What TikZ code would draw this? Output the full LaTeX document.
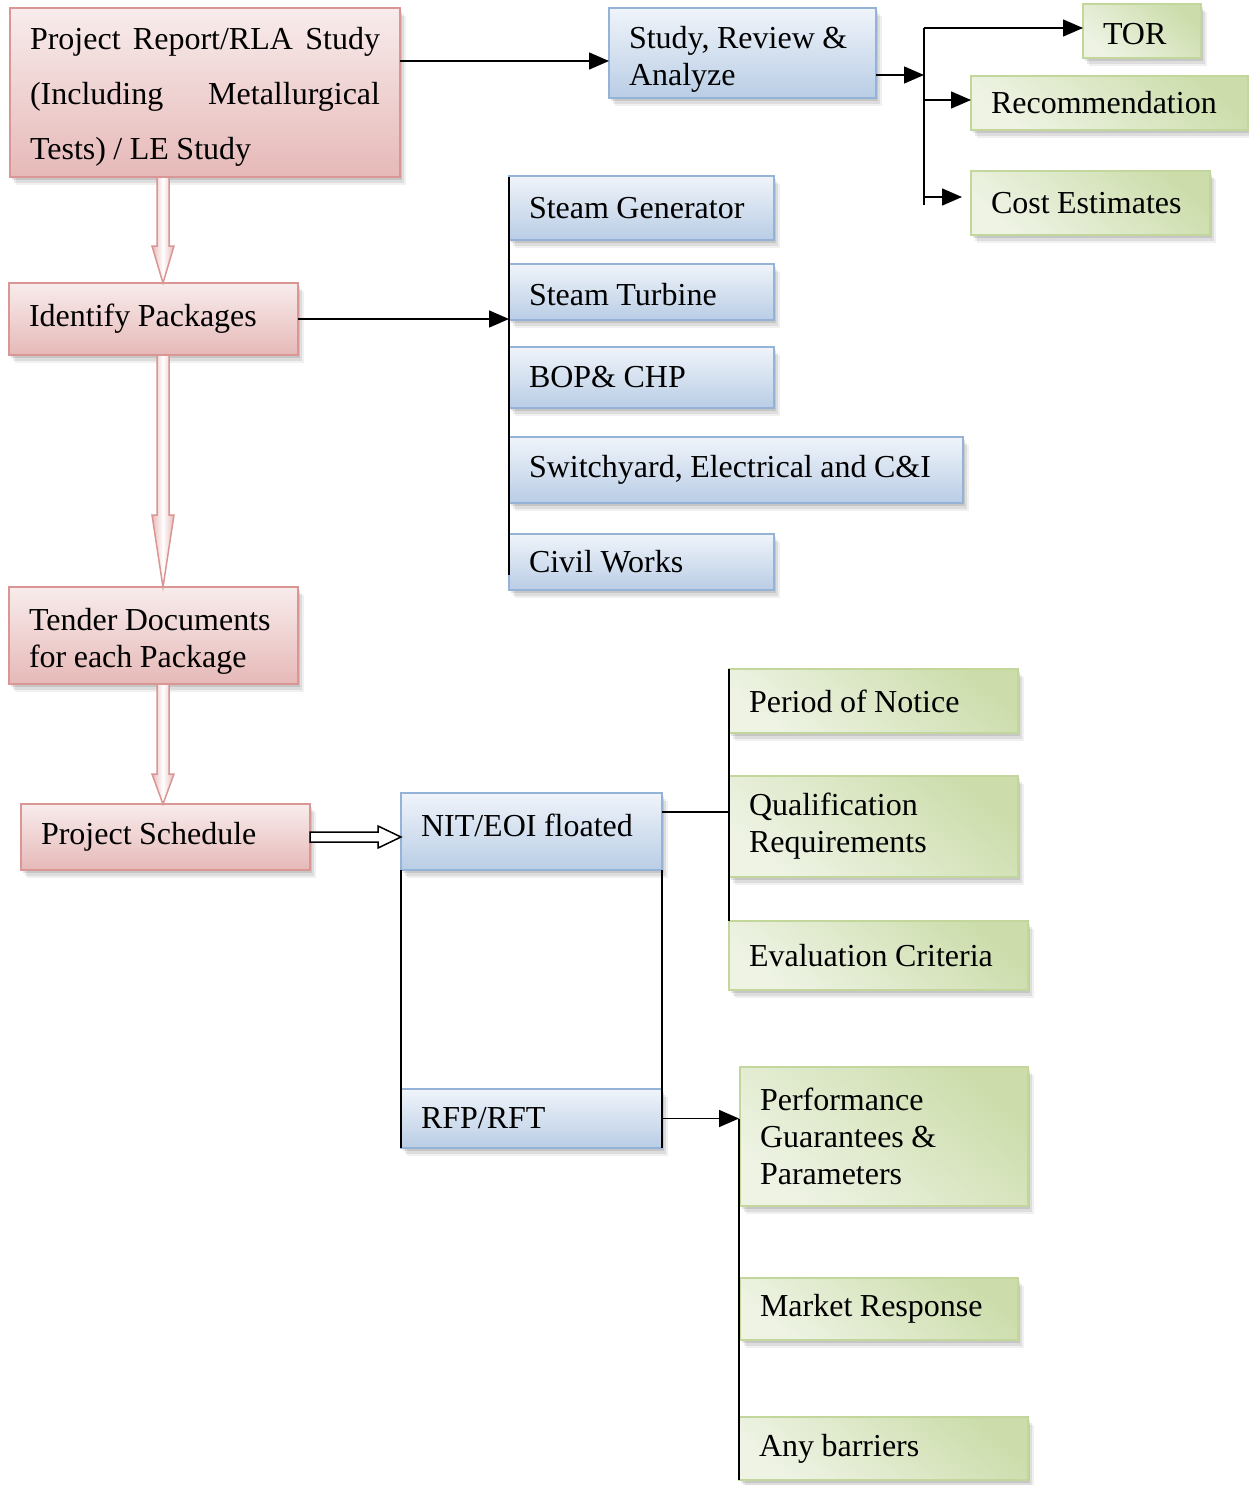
\documentclass[tikz,border=0pt]{standalone}
\usepackage{fontspec}
\setmainfont{Liberation Serif}
\usetikzlibrary{arrows.meta,shadows,calc}
\definecolor{pkD}{HTML}{D99694}
\definecolor{pkT}{HTML}{F8ECEC}
\definecolor{pkB}{HTML}{E6B9B8}
\definecolor{blD}{HTML}{95B3D7}
\definecolor{blT}{HTML}{F0F4FA}
\definecolor{blB}{HTML}{B9CDE5}
\definecolor{grD}{HTML}{C3D69B}
\definecolor{grA}{HTML}{CCDDAB}
\definecolor{grB}{HTML}{EEF3E4}
\newcommand\tightsp{\spaceskip=7.5pt plus 2pt minus 1pt\relax}
\tikzset{
  softshadow/.style={drop shadow={shadow xshift=2pt,shadow yshift=-3pt,opacity=.10,fill=black},
                     drop shadow={shadow xshift=4pt,shadow yshift=-6pt,opacity=.08,fill=black},
                     drop shadow={shadow xshift=6pt,shadow yshift=-8pt,opacity=.06,fill=black}},
  box/.style={anchor=north west, inner xsep=20pt, inner ysep=3pt, outer sep=0pt,
              line width=2pt, align=left, font=\fontsize{32}{37}\selectfont,
              execute at begin node=\tightsp, softshadow},
  pinkbox/.style={box, draw=pkD, top color=pkT, bottom color=pkB},
  bluebox/.style={box, draw=blD, top color=blT, bottom color=blB},
  greenbox/.style={box, draw=grD, top color=grA, bottom color=grB, shading angle=-40},
  conn/.style={line width=1.5pt, black},
  arr/.style={conn, -{Triangle[length=20pt,width=17pt]}},
  fatarr/.style={draw=pkD, line width=1.5pt, left color=pkB, right color=pkB, middle color=white},
  openarr/.style={draw=black, line width=1.5pt, fill=white},
}
\newcommand\fatarrow[3]{%
  \path[fatarr] let \p1=(#1), \p2=(#2) in
    (\x1-6pt,\y1) -- (\x1-6pt,\y2+#3) -- (\x1-11pt,\y2+#3) -- (\x2,\y2)
    -- (\x1+11pt,\y2+#3) -- (\x1+6pt,\y2+#3) -- (\x1+6pt,\y1) -- cycle;}
\newcommand\openarrow[2]{%
  \path[openarr] let \p1=(#1), \p2=(#2) in
    (\x1,\y1+5pt) -- (\x2-23pt,\y1+5pt) -- (\x2-23pt,\y1+11pt) -- (\x2,\y1)
    -- (\x2-23pt,\y1-11pt) -- (\x2-23pt,\y1-5pt) -- (\x1,\y1-5pt) -- cycle;}
\begin{document}
\begin{tikzpicture}[x=1pt,y=-1pt]
\useasboundingbox[fill=white] (0,0) rectangle (1249,1485);

% left column
\node[pinkbox, minimum height=169pt, text width=350pt, font=\fontsize{32}{55}\selectfont] (p1) at (10,8)
  {\rule{0pt}{31pt}Project\hfill Report/RLA\hfill Study\\(Including\hfill Metallurgical\\Tests) / LE Study};
\node[pinkbox, minimum height=72pt, text width=249pt] (ident) at (9,283) {Identify Packages};
\node[pinkbox, minimum height=97pt, text width=249pt] (tender) at (9,587) {\rule{0pt}{33pt}Tender Documents\\for each Package};
\node[pinkbox, minimum height=66pt, text width=249pt] (ps) at (21,804) {Project Schedule};

% top right
\node[bluebox, minimum height=90pt, text width=227pt] (study) at (609,8) {\rule{0pt}{35pt}Study, Review \&\\Analyze};
\node[greenbox, minimum height=54pt, text width=78pt] (tor) at (1083,4) {\rule{0pt}{27pt}TOR};
\node[greenbox, minimum height=54pt, text width=237pt] (rec) at (971,76) {Recommendation};
\node[greenbox, minimum height=64pt, text width=199pt] (cost) at (971,171) {Cost Estimates};

% packages
\node[bluebox, minimum height=64pt, text width=225pt] (sg) at (509,176) {Steam Generator};
\node[bluebox, minimum height=56pt, text width=225pt] (st) at (509,264) {\rule{0pt}{27pt}Steam Turbine};
\node[bluebox, minimum height=61pt, text width=225pt] (bop) at (509,347) {BOP\& CHP};
\node[bluebox, minimum height=66pt, text width=414pt] (sw) at (509,437) {Switchyard, Electrical and C\&I};
\node[bluebox, minimum height=56pt, text width=225pt] (cw) at (509,534) {Civil Works};

% NIT / RFP
\node[bluebox, minimum height=77pt, text width=221pt] (nit) at (401,793) {\raisebox{12pt}{NIT/EOI floated}};
\node[bluebox, minimum height=59pt, text width=221pt] (rfp) at (401,1089) {RFP/RFT};

\node[greenbox, minimum height=64pt, text width=249pt] (pon) at (729,669) {Period of Notice};
\node[greenbox, minimum height=101pt, text width=249pt] (qr) at (729,776) {Qualification\\Requirements};
\node[greenbox, minimum height=69pt, text width=259pt] (ev) at (729,921) {Evaluation Criteria};

\node[greenbox, minimum height=139pt, text width=248pt] (pg) at (740,1067) {Performance\\Guarantees \&\\Parameters};
\node[greenbox, minimum height=62pt, text width=238pt] (mr) at (740,1278) {Market Response};
\node[greenbox, minimum height=63pt, text width=249pt] (ab) at (739,1417) {Any barriers};

% helper coordinates
\coordinate (ax) at (163,0);
\coordinate (bx) at (924,0);
\coordinate (c1) at ([yshift=-53pt]p1.north east);
\coordinate (c2) at ([yshift=-67pt]study.north east);
\coordinate (c3) at ([yshift=-19pt]nit.north east);
\coordinate (b2top) at (509,177);
\coordinate (b2bot) at (509,575);

% connectors top
\draw[arr] (c1) -- (c1 -| study.west);
\draw[arr] (c2) -- (c2 -| bx);
\draw[conn] ([yshift=3pt]tor.west -| bx) -- ([yshift=-2pt]cost.west -| bx);
\draw[arr] ([yshift=3pt]tor.west -| bx) -- ([yshift=3pt]tor.west);
\draw[arr] ([yshift=3pt]rec.west -| bx) -- ([yshift=3pt]rec.west);
\draw[arr] ([yshift=6pt]cost.west -| bx) -- ([xshift=-9pt,yshift=6pt]cost.west);

% packages
\draw[arr] (ident.east) -- (ident.east -| sg.west);
\draw[conn] (b2top) -- (b2bot);

% fat arrows
\fatarrow{p1.south -| ax}{ident.north -| ax}{37pt}
\fatarrow{ident.south -| ax}{tender.north -| ax}{72pt}
\fatarrow{tender.south -| ax}{ps.north -| ax}{30pt}

% open arrow
\openarrow{ps.east}{ps.east -| nit.west}

% NIT / RFP lines
\draw[conn] (nit.south west) -- (rfp.south west);
\draw[conn] (nit.south east) -- (rfp.south east);
\draw[conn] (c3) -- (c3 -| pon.west);
\draw[conn] (pon.north west) -- (ev.north west);
\draw[arr] (rfp.east) -- (rfp.east -| ab.west);
\draw[conn] (rfp.east -| ab.west) -- (ab.south west);
\end{tikzpicture}
\end{document}
